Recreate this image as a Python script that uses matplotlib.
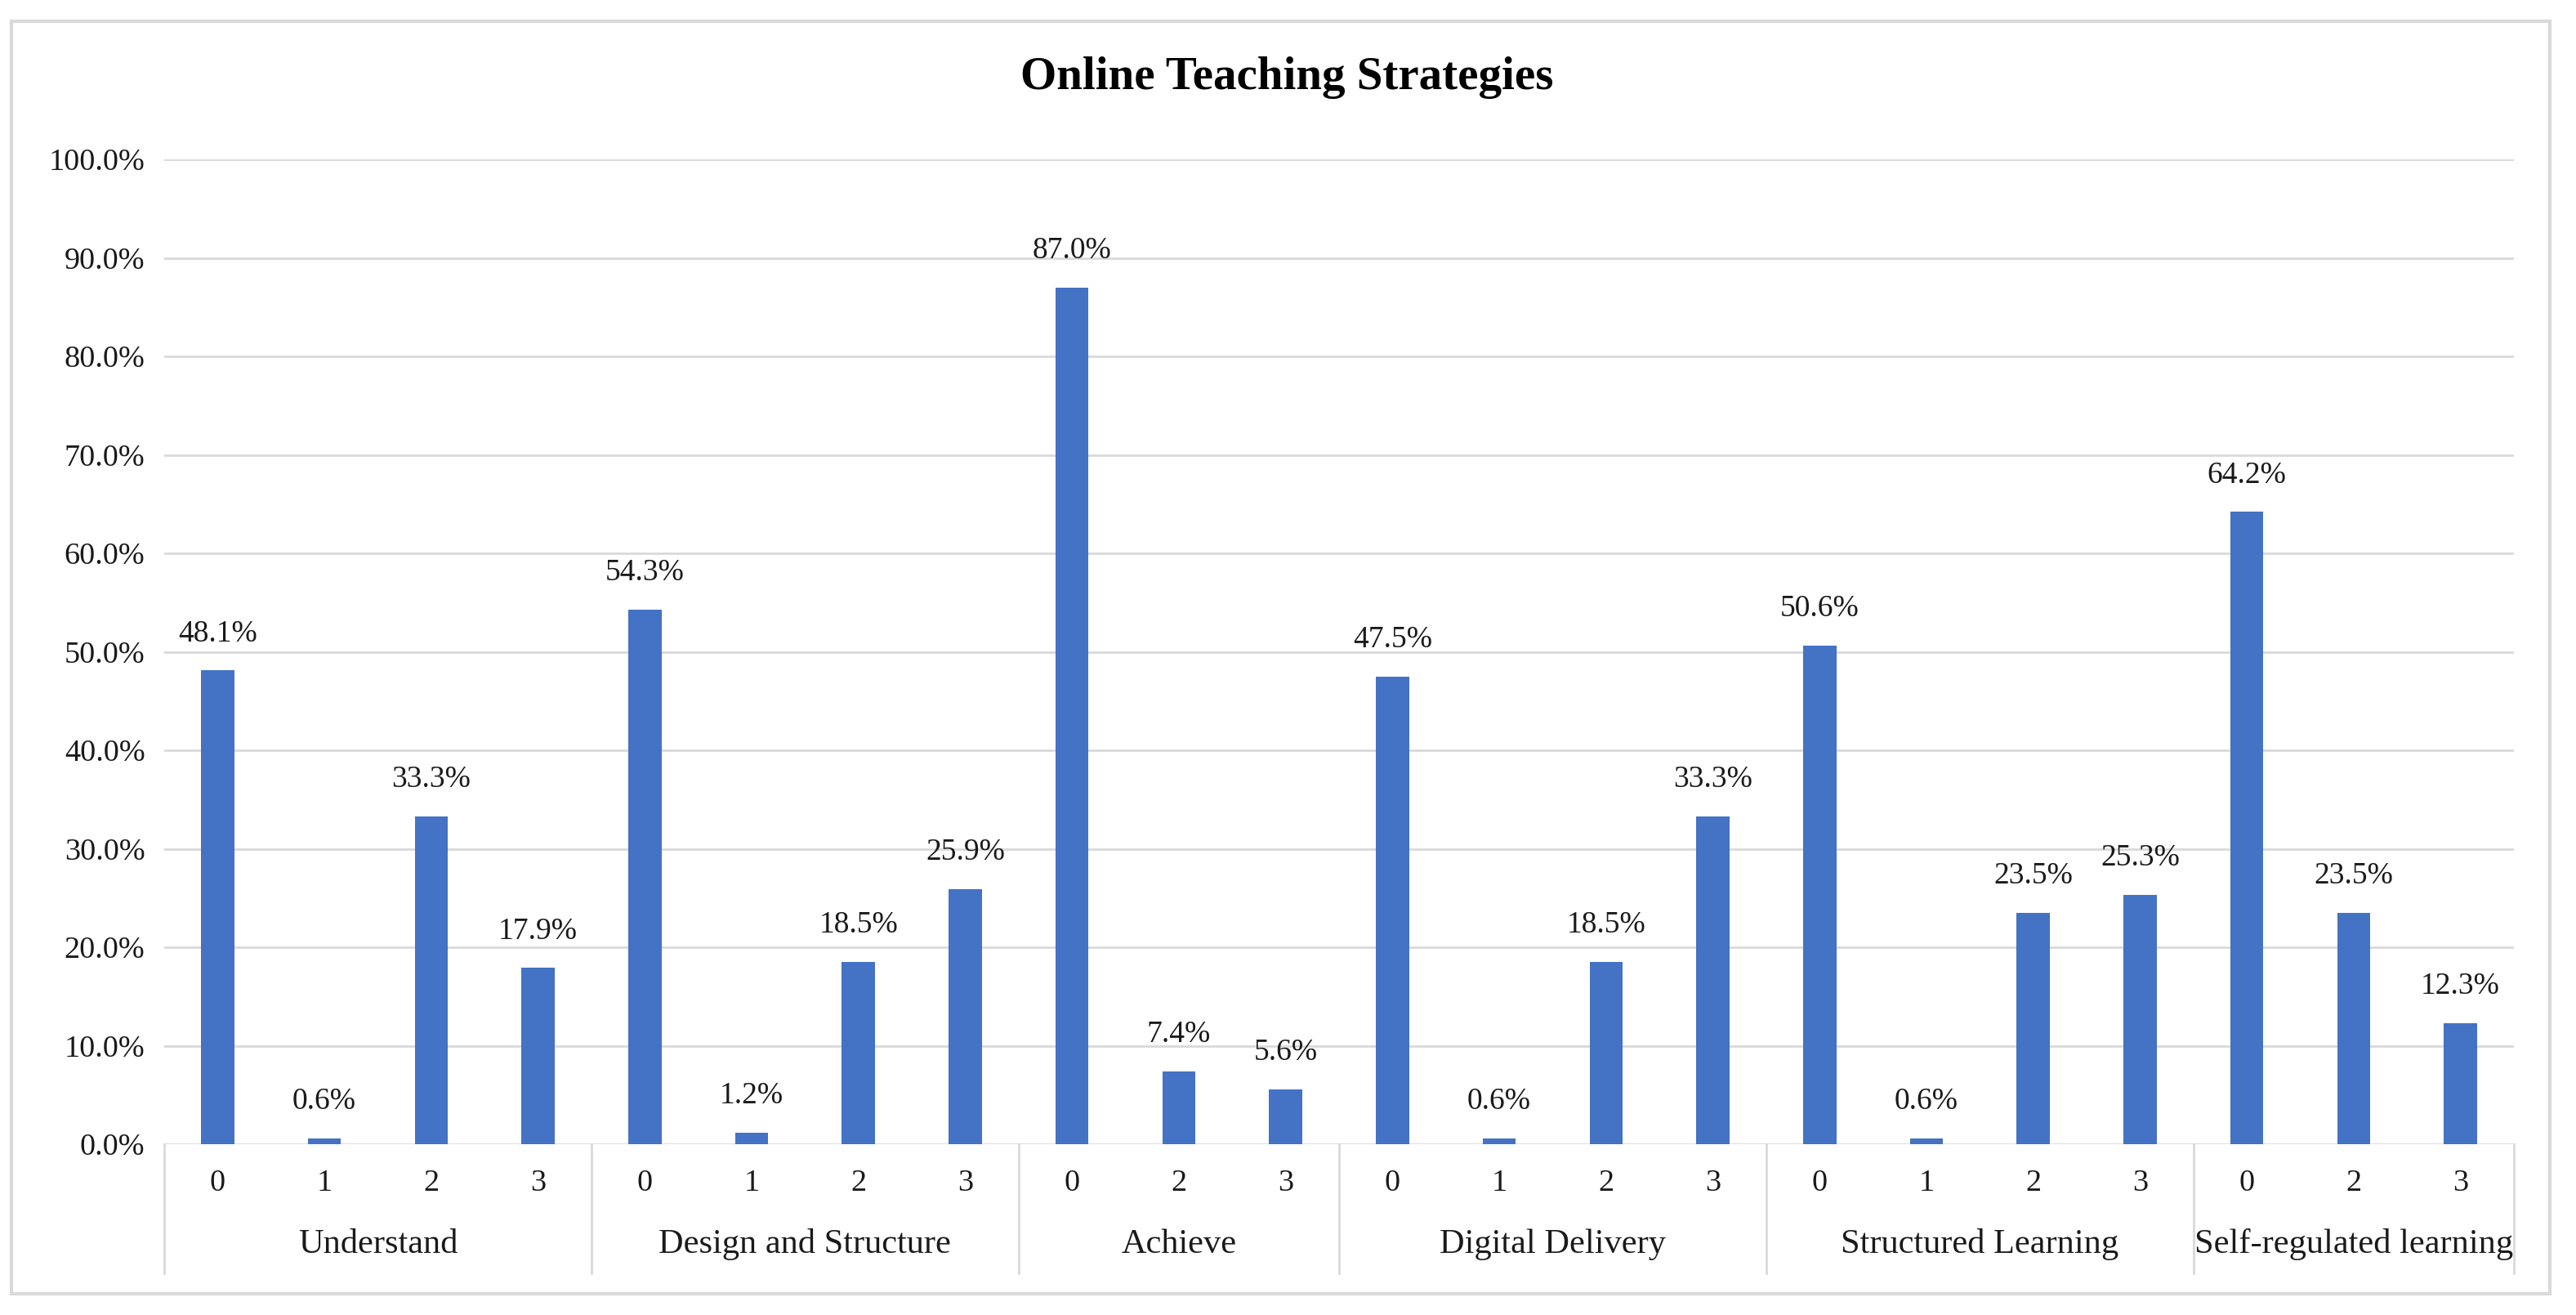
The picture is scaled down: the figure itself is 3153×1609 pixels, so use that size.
import matplotlib
matplotlib.use("Agg")
import matplotlib.pyplot as plt
from matplotlib.patches import Rectangle
from matplotlib.ticker import PercentFormatter

plt.rcParams['font.family'] = ['Liberation Serif', 'DejaVu Serif']

groups = ["Understand", "Design and Structure", "Achieve",
          "Digital Delivery", "Structured Learning", "Self-regulated learning"]
codes = [["0", "1", "2", "3"],
         ["0", "1", "2", "3"],
         ["0", "2", "3"],
         ["0", "1", "2", "3"],
         ["0", "1", "2", "3"],
         ["0", "2", "3"]]
values = [[48.1, 0.6, 33.3, 17.9],
          [54.3, 1.2, 18.5, 25.9],
          [87.0, 7.4, 5.6],
          [47.5, 0.6, 18.5, 33.3],
          [50.6, 0.6, 23.5, 25.3],
          [64.2, 23.5, 12.3]]

bar_color = "#4472C4"
grid_color = "#D9D9D9"
text_color = "#1a1a1a"

W, H = 3153, 1609
fig = plt.figure(figsize=(W / 100, H / 100), dpi=100)
# plot area in pixels: x 201..3077, y 195 (100%) .. 1400 (0%)
ax = fig.add_axes([201 / W, 1 - 1400 / H, (3077 - 201) / W, (1400 - 195) / H])

# flatten groups into positions
xs, ys, labels, bounds = [], [], [], [0]
pos = 0
for g, cs, vs in zip(groups, codes, values):
    for c, v in zip(cs, vs):
        xs.append(pos)
        ys.append(v)
        labels.append(c)
        pos += 1
    bounds.append(pos)

ax.bar(xs, ys, width=0.31, color=bar_color, zorder=3)
for x, y in zip(xs, ys):
    ax.annotate(f"{y:.1f}%", (x, y), xytext=(0, 20), textcoords="offset points",
                ha="center", va="bottom", fontsize=27, color=text_color)

ax.set_xlim(-0.5, pos - 0.5)
ax.set_ylim(0, 100)
ax.set_yticks(range(0, 101, 10))
ax.yaxis.set_major_formatter(PercentFormatter(decimals=1))
ax.tick_params(axis="y", length=0, pad=17, labelsize=27.5, labelcolor=text_color)
ax.set_xticks([])
ax.yaxis.grid(True, color=grid_color, linewidth=2)
ax.set_axisbelow(True)
for s in ax.spines.values():
    s.set_visible(False)

tr = ax.get_xaxis_transform()
for x, lab in zip(xs, labels):
    ax.text(x, -0.040, lab, transform=tr, ha="center", va="center",
            fontsize=27.5, color=text_color)
for i, g in enumerate(groups):
    mid = (bounds[i] + bounds[i + 1] - 1) / 2
    ax.text(mid, -0.102, g, transform=tr, ha="center", va="center",
            fontsize=30.5, color=text_color)
for b in bounds:
    ax.plot([b - 0.5, b - 0.5], [0, -0.131], transform=tr, color=grid_color,
            linewidth=2, clip_on=False)

fig.text(0.4995, 1 - 95 / H, "Online Teaching Strategies", ha="center", va="center",
         fontsize=41, fontweight="bold", color="black")

fig.patches.append(Rectangle((14 / W, 1 - 1583 / H), (3121 - 14) / W, (1583 - 26) / H,
                             transform=fig.transFigure, fill=False,
                             edgecolor=grid_color, linewidth=3))

fig.savefig("out.png", dpi=100)
